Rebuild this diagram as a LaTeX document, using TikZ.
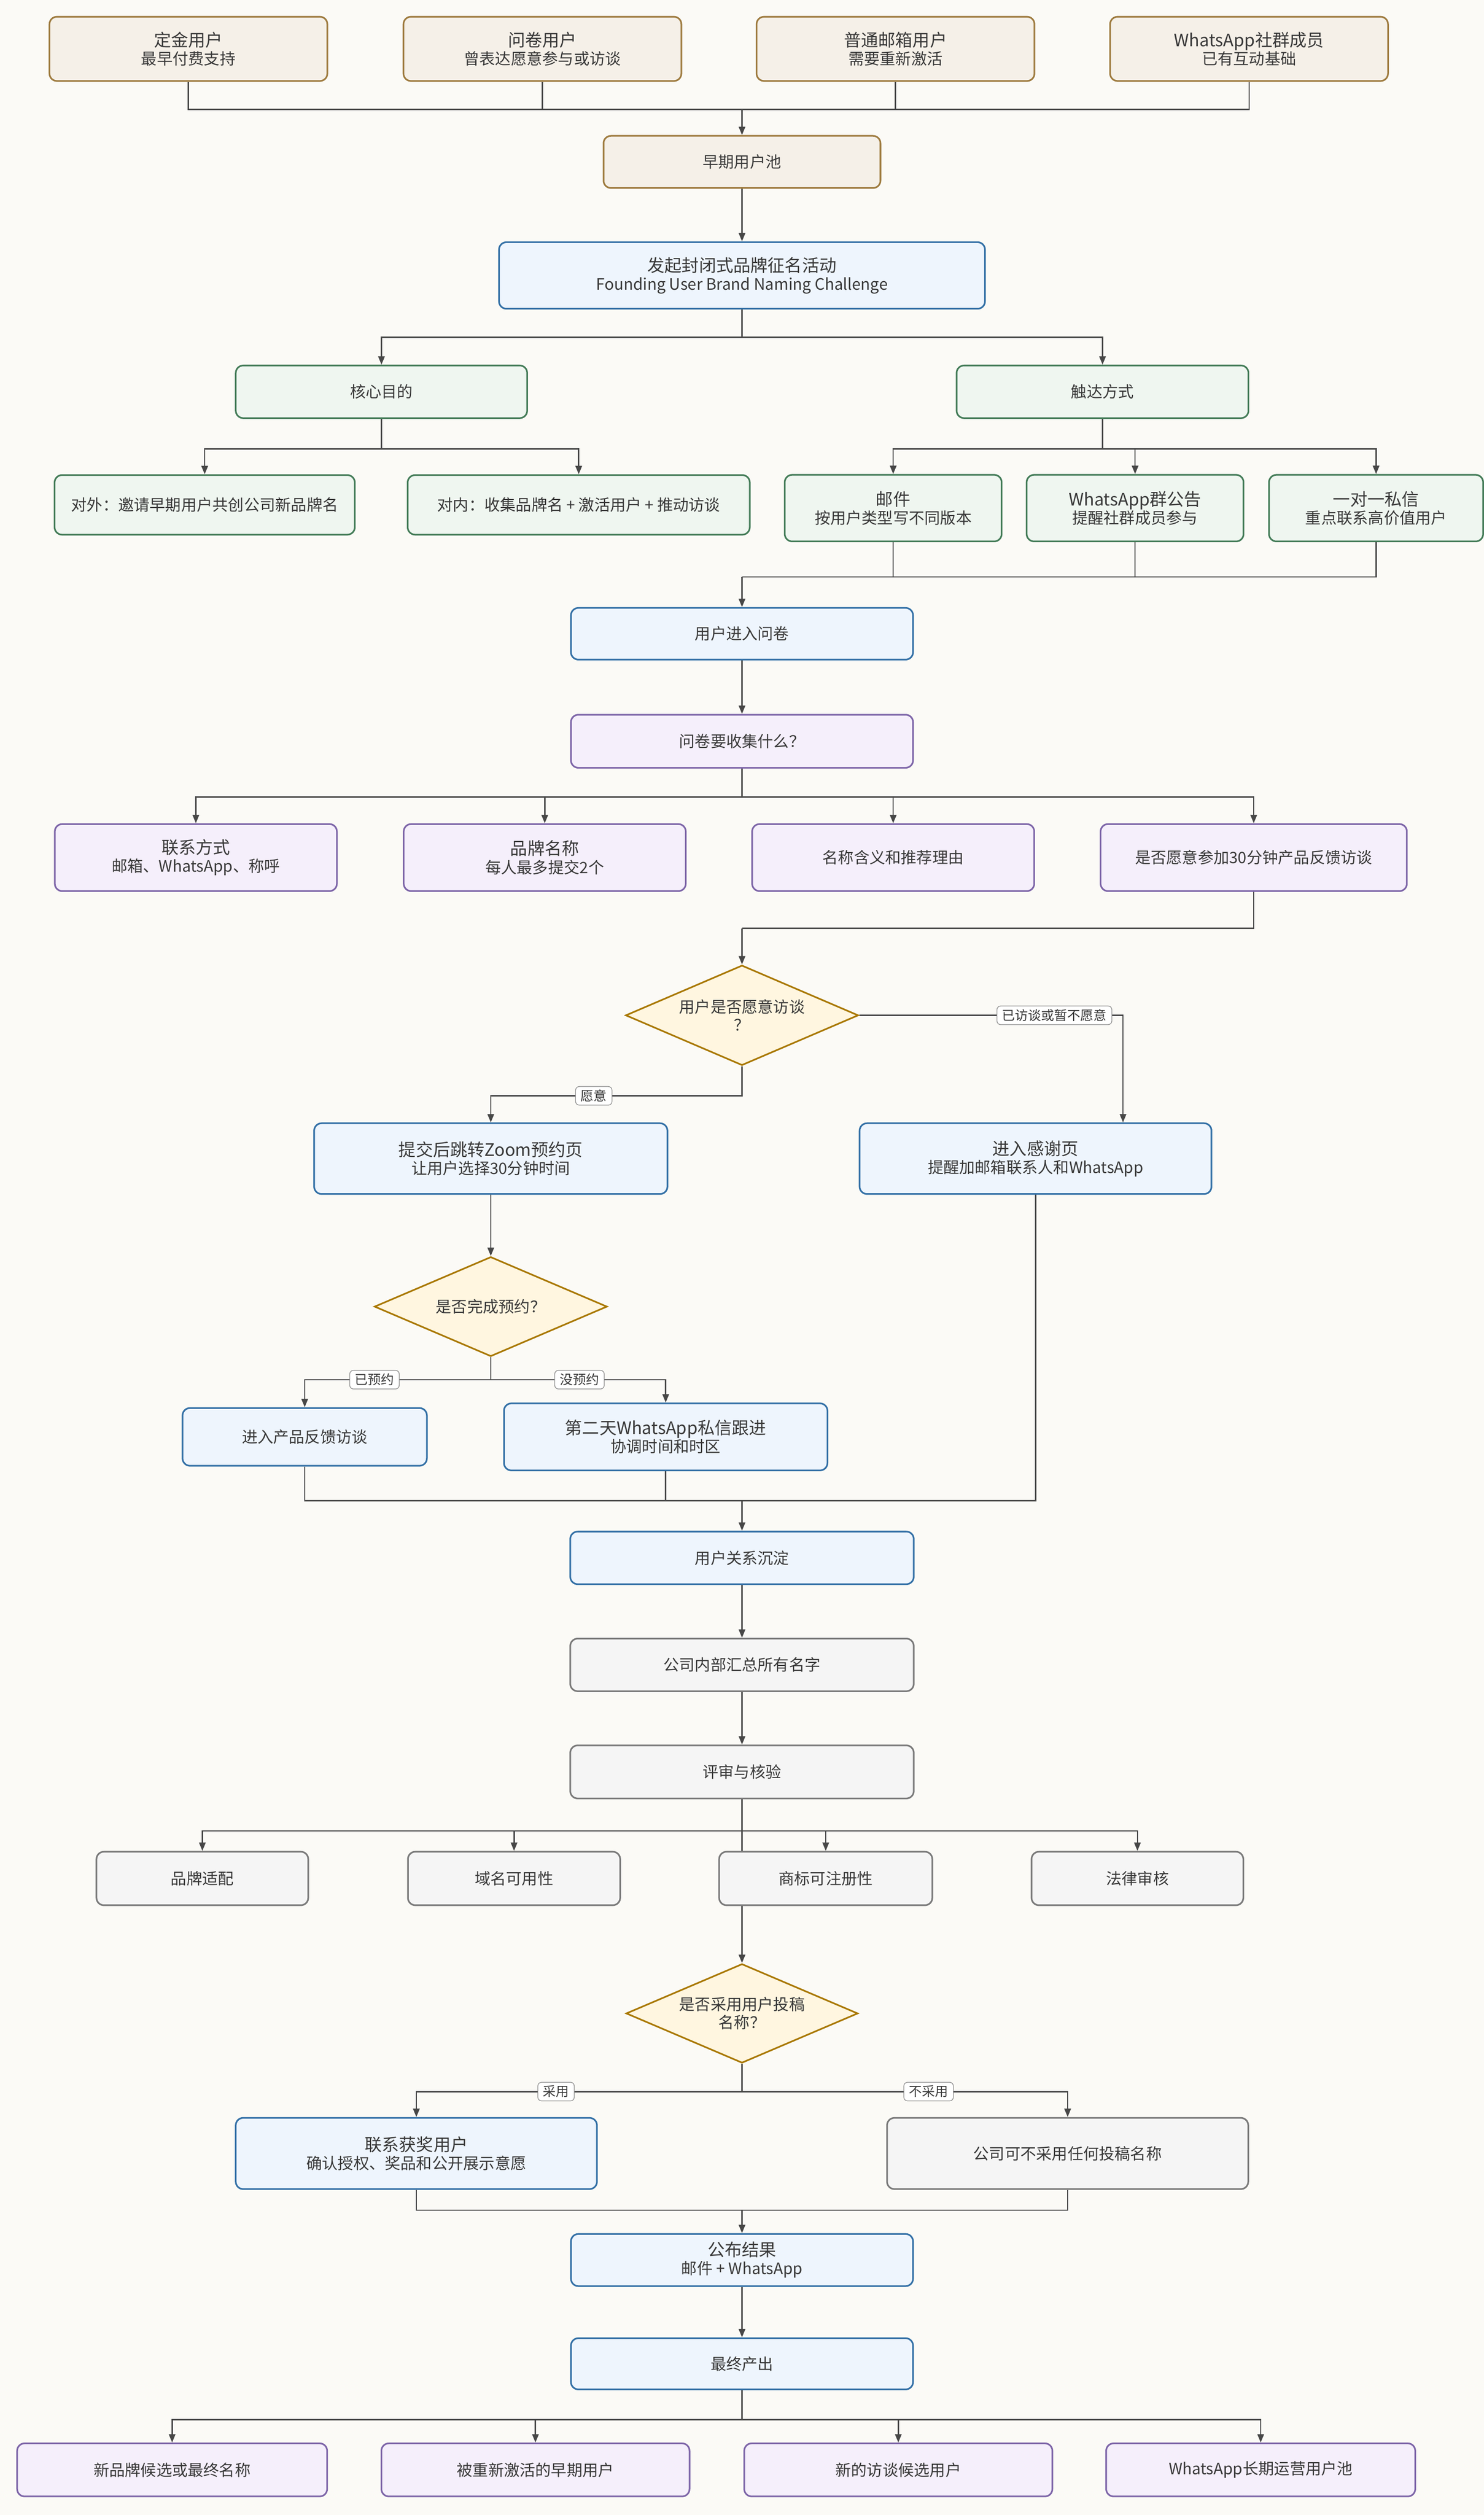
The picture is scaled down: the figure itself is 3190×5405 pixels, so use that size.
\documentclass[tikz,border=0pt]{standalone}
\usepackage{fontspec}
\setmainfont{Noto Sans CJK SC}
\usetikzlibrary{arrows.meta,shapes.geometric}
\definecolor{bg}{HTML}{FBFAF6}
\definecolor{txt}{HTML}{383838}
\definecolor{ln}{HTML}{474747}
\definecolor{tanF}{HTML}{F5F0E8}
\definecolor{tanD}{HTML}{9E7B3F}
\definecolor{bluF}{HTML}{EEF5FD}
\definecolor{bluD}{HTML}{3370A6}
\definecolor{grnF}{HTML}{EFF6F0}
\definecolor{grnD}{HTML}{447C58}
\definecolor{purF}{HTML}{F5EFFB}
\definecolor{purD}{HTML}{7D65A8}
\definecolor{gryF}{HTML}{F5F5F5}
\definecolor{gryD}{HTML}{7A7A7A}
\definecolor{diaF}{HTML}{FFF6E0}
\definecolor{diaD}{HTML}{A97800}
\definecolor{labD}{HTML}{8A8A8A}
\newcommand{\mytitle}{\fontsize{10.5pt}{11.1pt}\selectfont}
\newcommand{\mysub}{\fontsize{9.6pt}{11.1pt}\selectfont}
\newcommand{\mylab}{\fontsize{8pt}{9pt}\selectfont}
\pgfdeclarelayer{bgl}
\pgfdeclarelayer{edges}
\pgfsetlayers{bgl,edges,main}
\begin{document}
\begin{tikzpicture}[x=0.01cm,y=-0.01cm,
  box/.style={rectangle, rounded corners=0.16cm, line width=1pt, inner sep=0pt, align=center, text=txt, font=\mysub},
  wh/.style 2 args={minimum width=#1, minimum height=#2},
  tanbox/.style={box, draw=tanD, fill=tanF},
  blubox/.style={box, draw=bluD, fill=bluF},
  grnbox/.style={box, draw=grnD, fill=grnF},
  purbox/.style={box, draw=purD, fill=purF},
  grybox/.style={box, draw=gryD, fill=gryF},
  dia/.style={diamond, draw=diaD, fill=diaF, line width=1pt, inner sep=0pt, aspect=2.33, align=center, text=txt, font=\mysub, minimum width=5cm, minimum height=2.15cm},
  line/.style={draw=ln, line width=0.8pt},
  arr/.style={line, -{Triangle[length=0.18cm,width=0.14cm]}},
  elabel/.style={draw=labD, line width=0.4pt, fill=white, rounded corners=0.08cm, font=\mylab, text=txt, inner xsep=0.11cm, inner ysep=0pt, minimum height=0.4cm}
]
\begin{pgfonlayer}{bgl}
\fill[bg] (0,0) rectangle (3190,5405);
\end{pgfonlayer}
\useasboundingbox (0,0) rectangle (3190,5405);

% ---------- nodes ----------
\node[tanbox, wh={5.97cm}{1.38cm}] (u1) at (405,105) {{\mytitle 定金用户}\\最早付费支持};
\node[tanbox, wh={5.97cm}{1.38cm}] (u2) at (1166,105) {{\mytitle 问卷用户}\\曾表达愿意参与或访谈};
\node[tanbox, wh={5.97cm}{1.38cm}] (u3) at (1925,105) {{\mytitle 普通邮箱用户}\\需要重新激活};
\node[tanbox, wh={5.97cm}{1.38cm}] (u4) at (2685,105) {{\mytitle WhatsApp社群成员}\\已有互动基础};
\node[tanbox, wh={5.95cm}{1.12cm}] (pool) at (1595,348) {早期用户池};
\node[blubox, wh={10.44cm}{1.43cm}] (launch) at (1595,592) {{\mytitle 发起封闭式品牌征名活动}\\Founding User Brand Naming Challenge};
\node[grnbox, wh={6.26cm}{1.13cm}] (core) at (820,842) {核心目的};
\node[grnbox, wh={6.27cm}{1.13cm}] (reach) at (2370,842) {触达方式};
\node[grnbox, wh={6.45cm}{1.28cm}] (ext) at (440,1085) {对外：邀请早期用户共创公司新品牌名};
\node[grnbox, wh={7.35cm}{1.28cm}] (int) at (1244,1085) {对内：收集品牌名 + 激活用户 + 推动访谈};
\node[grnbox, wh={4.66cm}{1.43cm}] (mail) at (1920,1092) {{\mytitle 邮件}\\按用户类型写不同版本};
\node[grnbox, wh={4.66cm}{1.43cm}] (wag) at (2440,1092) {{\mytitle WhatsApp群公告}\\提醒社群成员参与};
\node[grnbox, wh={4.60cm}{1.43cm}] (dm) at (2958,1092) {{\mytitle 一对一私信}\\重点联系高价值用户};
\node[blubox, wh={7.35cm}{1.11cm}] (enter) at (1595,1362) {用户进入问卷};
\node[purbox, wh={7.35cm}{1.14cm}] (q) at (1595,1593) {问卷要收集什么？};
\node[purbox, wh={6.06cm}{1.44cm}] (c1) at (421,1843) {{\mytitle 联系方式}\\邮箱、WhatsApp、称呼};
\node[purbox, wh={6.06cm}{1.44cm}] (c2) at (1171,1843) {{\mytitle 品牌名称}\\每人最多提交2个};
\node[purbox, wh={6.06cm}{1.44cm}] (c3) at (1920,1843) {名称含义和推荐理由};
\node[purbox, wh={6.58cm}{1.44cm}] (c4) at (2695,1843) {是否愿意参加30分钟产品反馈访谈};
\node[dia] (d1) at (1595,2182) {用户是否愿意访谈\\？};
\node[blubox, wh={7.59cm}{1.52cm}] (zoom) at (1055,2490) {{\mytitle 提交后跳转Zoom预约页}\\让用户选择30分钟时间};
\node[blubox, wh={7.56cm}{1.52cm}] (thanks) at (2226,2490) {{\mytitle 进入感谢页}\\提醒加邮箱联系人和WhatsApp};
\node[dia, minimum height=2.14cm] (d2) at (1055,2808) {是否完成预约？};
\node[blubox, wh={5.25cm}{1.24cm}] (fb) at (655,3088) {进入产品反馈访谈};
\node[blubox, wh={6.95cm}{1.44cm}] (wa2) at (1431,3088) {{\mytitle 第二天WhatsApp私信跟进}\\协调时间和时区};
\node[blubox, wh={7.38cm}{1.13cm}] (rel) at (1595,3348) {用户关系沉淀};
\node[grybox, wh={7.38cm}{1.13cm}] (sum) at (1595,3578) {公司内部汇总所有名字};
\node[grybox, wh={7.38cm}{1.14cm}] (rev) at (1595,3808) {评审与核验};
\node[grybox, wh={4.55cm}{1.15cm}] (r1) at (435,4037) {品牌适配};
\node[grybox, wh={4.56cm}{1.15cm}] (r2) at (1105,4037) {域名可用性};
\node[grybox, wh={4.58cm}{1.15cm}] (r3) at (1775,4037) {商标可注册性};
\node[grybox, wh={4.55cm}{1.15cm}] (r4) at (2445,4037) {法律审核};
\node[dia, minimum width=4.98cm, minimum height=2.13cm] (d3) at (1595,4327) {是否采用用户投稿\\名称？};
\node[blubox, wh={7.76cm}{1.53cm}] (win) at (895,4628) {{\mytitle 联系获奖用户}\\确认授权、奖品和公开展示意愿};
\node[grybox, wh={7.76cm}{1.53cm}] (no) at (2295,4628) {公司可不采用任何投稿名称};
\node[blubox, wh={7.35cm}{1.12cm}] (pub) at (1595,4857) {{\mytitle 公布结果}\\邮件 + WhatsApp};
\node[blubox, wh={7.35cm}{1.10cm}] (out) at (1595,5080) {最终产出};
\node[purbox, wh={6.66cm}{1.14cm}] (o1) at (370,5308) {新品牌候选或最终名称};
\node[purbox, wh={6.62cm}{1.14cm}] (o2) at (1151,5308) {被重新激活的早期用户};
\node[purbox, wh={6.62cm}{1.14cm}] (o3) at (1931,5308) {新的访谈候选用户};
\node[purbox, wh={6.64cm}{1.14cm}] (o4) at (2710,5308) {WhatsApp长期运营用户池};

% ---------- junction points ----------
\coordinate (j1) at (1595,235);
\coordinate (j2) at (1595,725);
\coordinate (j3) at (820,965);
\coordinate (j4) at (2370,965);
\coordinate (j5) at (1595,1240);
\coordinate (j6) at (1595,1713);
\coordinate (j7) at (1595,1995);
\coordinate (k1) at (1595,2355);
\coordinate (t1) at (2414,2182);
\coordinate (k2) at (1055,2965);
\coordinate (j8) at (1595,3225);
\coordinate (j9) at (1595,3935);
\coordinate (k3) at (1595,4495);
\coordinate (j10) at (1595,4750);
\coordinate (j11) at (1595,5200);

% ---------- connectors ----------
\begin{pgfonlayer}{edges}
\draw[line] (u1.south) |- (j1);
\draw[line] (u2.south) |- (j1);
\draw[line] (u3.south) |- (j1);
\draw[line] (u4.south) |- (j1);
\draw[arr] (j1) -- (pool.north);
\draw[arr] (pool.south) -- (launch.north);
\draw[line] (launch.south) -- (j2);
\draw[arr] (j2) -| (core.north);
\draw[arr] (j2) -| (reach.north);
\draw[line] (core.south) -- (j3);
\draw[arr] (j3) -| (ext.north);
\draw[arr] (j3) -| (int.north);
\draw[line] (reach.south) -- (j4);
\draw[arr] (j4) -| (mail.north);
\draw[arr] (j4) -| (wag.north);
\draw[arr] (j4) -| (dm.north);
\draw[line] (mail.south) |- (j5);
\draw[line] (wag.south) |- (j5);
\draw[line] (dm.south) |- (j5);
\draw[arr] (j5) -- (enter.north);
\draw[arr] (enter.south) -- (q.north);
\draw[line] (q.south) -- (j6);
\draw[arr] (j6) -| (c1.north);
\draw[arr] (j6) -| (c2.north);
\draw[arr] (j6) -| (c3.north);
\draw[arr] (j6) -| (c4.north);
\draw[line] (c4.south) |- (j7);
\draw[arr] (j7) -- (d1.north);
\draw[arr] (d1.east) -- node[elabel, pos=0.74] {已访谈或暂不愿意} (t1) -- (t1 |- thanks.north);
\draw[arr] (d1.south) -- (k1) -- node[elabel, pos=0.59] {愿意} (k1 -| zoom.north) -- (zoom.north);
\draw[arr] (zoom.south) -- (d2.north);
\draw[line] (d2.south) -- (k2);
\draw[arr] (k2) -- node[elabel, pos=0.625] {已预约} (k2 -| fb.north) -- (fb.north);
\draw[arr] (k2) -- node[elabel, pos=0.507] {没预约} (k2 -| wa2.north) -- (wa2.north);
\draw[line] (fb.south) |- (j8);
\draw[line] (wa2.south) |- (j8);
\draw[line] (thanks.south) |- (j8);
\draw[arr] (j8) -- (rel.north);
\draw[arr] (rel.south) -- (sum.north);
\draw[arr] (sum.south) -- (rev.north);
\draw[line] (rev.south) -- (j9);
\draw[arr] (j9) -| (r1.north);
\draw[arr] (j9) -| (r2.north);
\draw[arr] (j9) -| (r3.north);
\draw[arr] (j9) -| (r4.north);
\draw[arr] (j9) -- (d3.north);
\draw[line] (d3.south) -- (k3);
\draw[arr] (k3) -- node[elabel, pos=0.571] {采用} (k3 -| win.north) -- (win.north);
\draw[arr] (k3) -- node[elabel, pos=0.573] {不采用} (k3 -| no.north) -- (no.north);
\draw[line] (win.south) |- (j10);
\draw[line] (no.south) |- (j10);
\draw[arr] (j10) -- (pub.north);
\draw[arr] (pub.south) -- (out.north);
\draw[line] (out.south) -- (j11);
\draw[arr] (j11) -| (o1.north);
\draw[arr] (j11) -| (o2.north);
\draw[arr] (j11) -| (o3.north);
\draw[arr] (j11) -| (o4.north);
\end{pgfonlayer}
\end{tikzpicture}
\end{document}
